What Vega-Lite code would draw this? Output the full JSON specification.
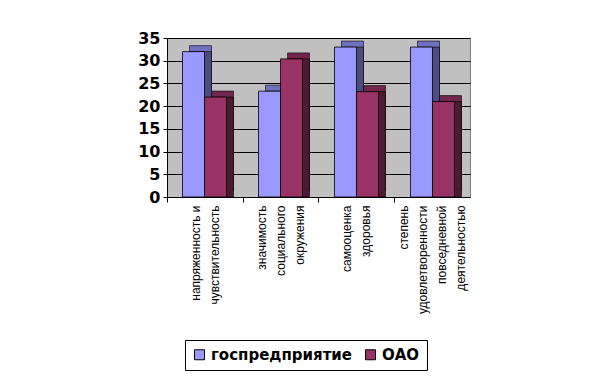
{
  "$schema": "https://vega.github.io/schema/vega-lite/v6.json",
  "autosize": {"type": "none"},
  "padding": {"left": 167, "top": 38, "right": 146, "bottom": 187},
  "width": 303,
  "height": 159,
  "background": "white",
  "config": {
    "view": {"fill": "#c0c0c0", "stroke": "#808080", "strokeWidth": 1},
    "font": "Liberation Sans"
  },
  "data": {
    "values": [
      {"category": "напряженность и|чувствительность", "series": "госпредприятие", "value": 32},
      {"category": "напряженность и|чувствительность", "series": "ОАО", "value": 22},
      {"category": "значимость|социального|окружения", "series": "госпредприятие", "value": 23.3},
      {"category": "значимость|социального|окружения", "series": "ОАО", "value": 30.4},
      {"category": "самооценка|здоровья", "series": "госпредприятие", "value": 33},
      {"category": "самооценка|здоровья", "series": "ОАО", "value": 23.2},
      {"category": "степень|удовлетворенности|повседневной|деятельностью", "series": "госпредприятие", "value": 33},
      {"category": "степень|удовлетворенности|повседневной|деятельностью", "series": "ОАО", "value": 21}
    ]
  },
  "encoding": {
    "y": {"field": "value", "type": "quantitative", "title": null,
          "scale": {"domain": [0, 35], "nice": false},
          "axis": {"values": [0, 5, 10, 15, 20, 25, 30, 35], "labelOverlap": false, "labelFont": "DejaVu Sans", "labelFontSize": 16, "labelFontWeight": "bold", "labelColor": "black", "labelPadding": 3, "tickColor": "black", "tickSize": 4, "domainColor": "black", "grid": true, "gridColor": "black", "gridOpacity": 1, "gridWidth": 1}},
    "xOffset": {"field": "series", "type": "nominal", "sort": ["госпредприятие", "ОАО"], "scale": {"paddingInner": 0, "paddingOuter": 0}}
  },
  "layer": [
    {
      "mark": {"type": "bar", "yOffset": -6, "stroke": "black", "strokeWidth": 0.6},
      "encoding": {
        "x": {"field": "category", "type": "nominal", "sort": null, "axis": null,
              "scale": {"paddingInner": 0.421, "paddingOuter": 0.204, "align": 0.726}},
        "color": {"condition": {"test": "datum.series === 'ОАО'", "value": "#73264d"}, "value": "#7070c0"}
      }
    },
    {
      "mark": {"type": "bar", "stroke": "black", "strokeWidth": 0.6},
      "encoding": {
        "x": {"field": "category", "type": "nominal", "sort": null, "axis": null,
              "scale": {"paddingInner": 0.421, "paddingOuter": 0.204, "align": 0.726}},
        "color": {"condition": {"test": "datum.series === 'ОАО'", "value": "#4d1933"}, "value": "#4c4c80"}
      }
    },
    {
      "mark": {"type": "bar", "stroke": "black", "strokeWidth": 0.8},
      "encoding": {
        "x": {"field": "category", "type": "nominal", "sort": null, "title": null,
              "scale": {"paddingInner": 0.421, "paddingOuter": 0.204, "align": 0.5},
              "axis": {
                "labelExpr": "split(datum.value, '|')",
                "labelAngle": -90,
                "labelFont": "Liberation Sans",
                "labelFontSize": 12,
                "labelColor": "black",
                "labelLineHeight": 19,
                "labelLimit": 300,
                "labelPadding": 3,
                "tickOffset": -38,
                "labelOffset": {"expr": "38 - (length(split(datum.value, '|')) - 1) * 9.5"},
                "tickColor": "black",
                "tickSize": 5,
                "domainColor": "black",
                "grid": false
              }},
        "color": {
          "field": "series", "type": "nominal",
          "scale": {"domain": ["госпредприятие", "ОАО"], "range": ["#9999ff", "#993366"]},
          "legend": {
            "title": null,
            "orient": "none",
            "legendX": 18,
            "legendY": 302,
            "direction": "horizontal",
            "fillColor": "white",
            "strokeColor": "black",
            "padding": 7,
            "symbolType": "square",
            "symbolSize": 100,
            "symbolStrokeColor": "black",
            "symbolStrokeWidth": 1,
            "symbolOpacity": 1,
            "labelFont": "DejaVu Sans",
            "labelFontSize": 15,
            "labelFontWeight": "bold",
            "labelColor": "black",
            "columnPadding": 10
          }
        }
      }
    }
  ],
  "resolve": {"scale": {"x": "independent", "xOffset": "independent"}}
}
